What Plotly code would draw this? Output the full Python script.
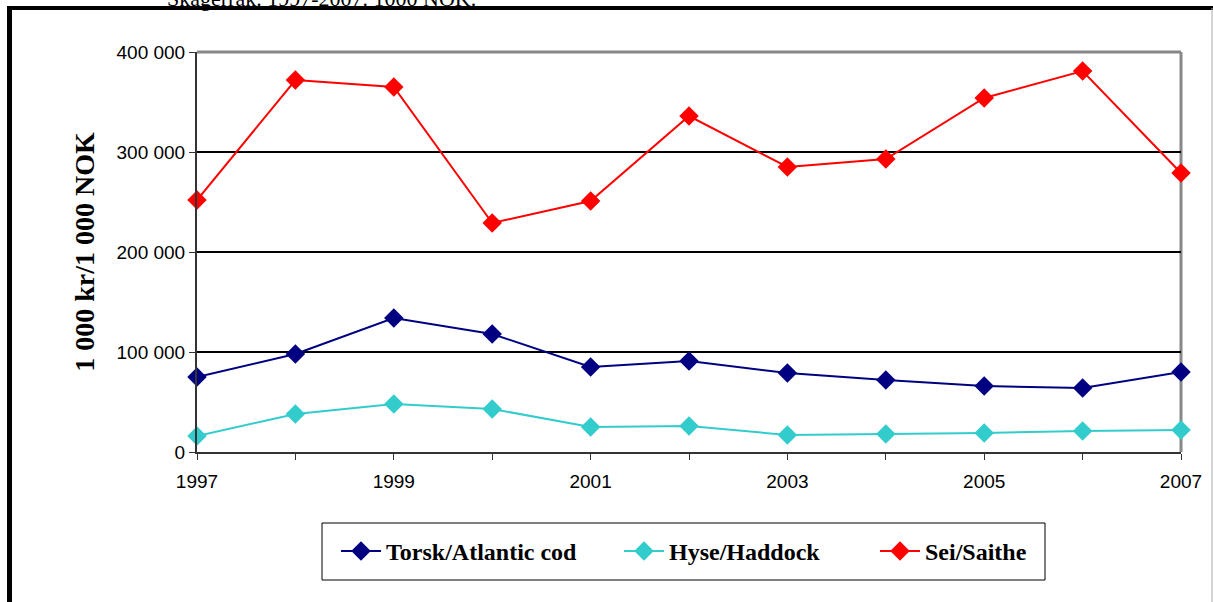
import plotly.graph_objects as go

years = list(range(1997, 2008))
torsk = [75000, 98000, 134000, 118000, 85000, 91000, 79000, 72000, 66000, 64000, 80000]
hyse = [16000, 38000, 48000, 43000, 25000, 26000, 17000, 18000, 19000, 21000, 22000]
sei = [252000, 372000, 365000, 229000, 251000, 336000, 285000, 293000, 354000, 381000, 279000]

series = [
    ('Torsk/Atlantic cod', torsk, '#000080', 228),
    ('Hyse/Haddock', hyse, '#33CCCC', 201),
    ('Sei/Saithe', sei, '#FF0000', 120),
]

ytick_vals = [0, 100000, 200000, 300000, 400000]
ytick_text = ['0', '100 000', '200 000', '300 000', '400 000']
xtick_text = [str(y) if (y - 1997) % 2 == 0 else '' for y in years]

title_text = 'Skagerrak. 1997-2007. 1000 NOK.'
ytitle = '1 000 kr/1 000 NOK'

W, H = 1213, 602
L, R, T, B = 197, 1181, 52, 452   # plot area in pixels
def px(x): return (x - L) / (R - L)
def py(y): return (B - y) / (B - T)

fig = go.Figure()
for name, vals, col, lw in series:
    fig.add_trace(go.Scatter(
        x=years, y=vals, name=name, mode='lines+markers',
        line=dict(color=col, width=2),
        marker=dict(symbol='diamond', size=15, color=col),
        legendwidth=lw,
        cliponaxis=False,
    ))

serif = 'Liberation Serif, Times New Roman, serif'
sans = 'Liberation Sans, Arial, sans-serif'

fig.update_layout(
    width=W, height=H,
    margin=dict(l=L, r=W - R, t=T, b=H - B),
    paper_bgcolor='white', plot_bgcolor='white',
    showlegend=True,
    legend=dict(
        orientation='h', x=px(336), xanchor='left', y=py(551.5), yanchor='middle',
        borderwidth=0, bgcolor='rgba(0,0,0,0)',
        font=dict(family=serif, size=24, color='black', weight='bold'),
        itemwidth=40, tracegroupgap=0,
    ),
    xaxis=dict(
        range=[1997, 2007], tickmode='array', tickvals=years, ticktext=xtick_text,
        showgrid=False, zeroline=False, showline=True, linecolor='#333', linewidth=2,
        ticks='outside', ticklen=6, tickcolor='#333', tickwidth=1,
        ticklabelstandoff=5,
        tickfont=dict(family=sans, size=19, color='black'),
    ),
    yaxis=dict(
        range=[0, 400000], tickmode='array', tickvals=ytick_vals, ticktext=ytick_text,
        showgrid=True, gridcolor='black', gridwidth=2, zeroline=False,
        showline=True, linecolor='#333', linewidth=2,
        ticks='outside', ticklen=6, tickcolor='#333', tickwidth=1,
        tickfont=dict(family=sans, size=19, color='black'),
        title=dict(text='<b>' + ytitle + '</b>', font=dict(family=serif, size=28, color='black'), standoff=14),
    ),
    shapes=[
        # gray plot border (top & right)
        dict(type='line', xref='paper', yref='paper', x0=0, x1=1, y0=1, y1=1,
             line=dict(color='#888', width=3), layer='between'),
        dict(type='line', xref='paper', yref='paper', x0=1, x1=1, y0=0, y1=1,
             line=dict(color='#888', width=3), layer='between'),
        # legend box
        dict(type='rect', xref='paper', yref='paper', x0=px(322), x1=px(1045), y0=py(523), y1=py(580),
             line=dict(color='black', width=1), layer='below'),
        # outer frame
        dict(type='line', xref='paper', yref='paper', x0=px(7), x1=px(1220), y0=py(8), y1=py(8),
             line=dict(color='black', width=4)),
        dict(type='line', xref='paper', yref='paper', x0=px(9.5), x1=px(9.5), y0=py(6), y1=py(610),
             line=dict(color='black', width=5)),
        dict(type='line', xref='paper', yref='paper', x0=px(1212), x1=px(1212), y0=py(8), y1=py(610),
             line=dict(color='#aaa', width=1)),
    ],
    annotations=[
        dict(text=title_text, xref='paper', yref='paper', x=px(165), y=py(13),
             xanchor='left', yanchor='bottom', showarrow=False,
             font=dict(family=serif, size=22, color='black')),
    ],
)

fig.write_html('out.html', config={'displayModeBar': False},
               post_script="document.body.style.margin='0';")
